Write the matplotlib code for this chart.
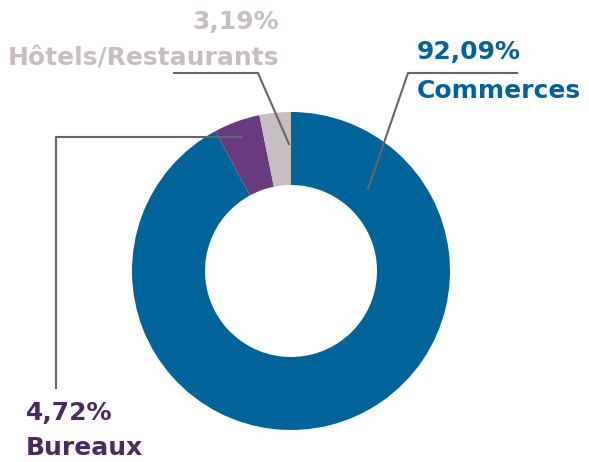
"""
    Donut chart of surface split by usage.
"""
import matplotlib
matplotlib.use("Agg")
import matplotlib.pyplot as plt

LABELS = ["Commerces", "Bureaux", "Hôtels/Restaurants"]
SHARES = [92.09, 4.72, 3.19]
PCT_TEXT = ["92,09%", "4,72%", "3,19%"]

COLORS = ["#00639a", "#693a7d", "#c6bec3"]
TEXT_COLORS = ["#00639a", "#4b2a5c", "#c6bec3"]
LINE_COLOR = "#666666"

W, H = 589, 462


def py(y):
    """Convert a pixel row (from top) to axis y."""
    return H - y


def main():
    fig = plt.figure(figsize=(W / 100, H / 100), dpi=100)
    ax = fig.add_axes([0, 0, 1, 1])

    ax.pie(SHARES, colors=COLORS, startangle=90, counterclock=False,
           center=(291, py(271)), radius=159,
           wedgeprops=dict(width=73, linewidth=0))

    # pie() resets the limits, so set them afterwards
    ax.set_xlim(0, W)
    ax.set_ylim(0, H)
    ax.set_aspect("equal")
    ax.axis("off")

    font = dict(fontsize=18, fontweight="bold", family="DejaVu Sans")

    # Commerces
    ax.plot([368, 408, 517], [py(189), py(73), py(73)], color=LINE_COLOR, lw=1.5)
    ax.text(417, py(52), PCT_TEXT[0], color=TEXT_COLORS[0], ha="left", va="center", **font)
    ax.text(417, py(91), LABELS[0], color=TEXT_COLORS[0], ha="left", va="center", **font)

    # Bureaux
    ax.plot([242, 56, 56], [py(137), py(137), py(388)], color=LINE_COLOR, lw=1.5)
    ax.text(26, py(413), PCT_TEXT[1], color=TEXT_COLORS[1], ha="left", va="center", **font)
    ax.text(26, py(448), LABELS[1], color=TEXT_COLORS[1], ha="left", va="center", **font)

    # Hotels / Restaurants
    ax.plot([289, 258, 174], [py(144), py(73), py(73)], color=LINE_COLOR, lw=1.5)
    ax.text(279, py(22), PCT_TEXT[2], color=TEXT_COLORS[2], ha="right", va="center", **font)
    ax.text(279, py(58), LABELS[2], color=TEXT_COLORS[2], ha="right", va="center", **font)

    fig.savefig("out.png", dpi=100)


if __name__ == "__main__":
    main()
